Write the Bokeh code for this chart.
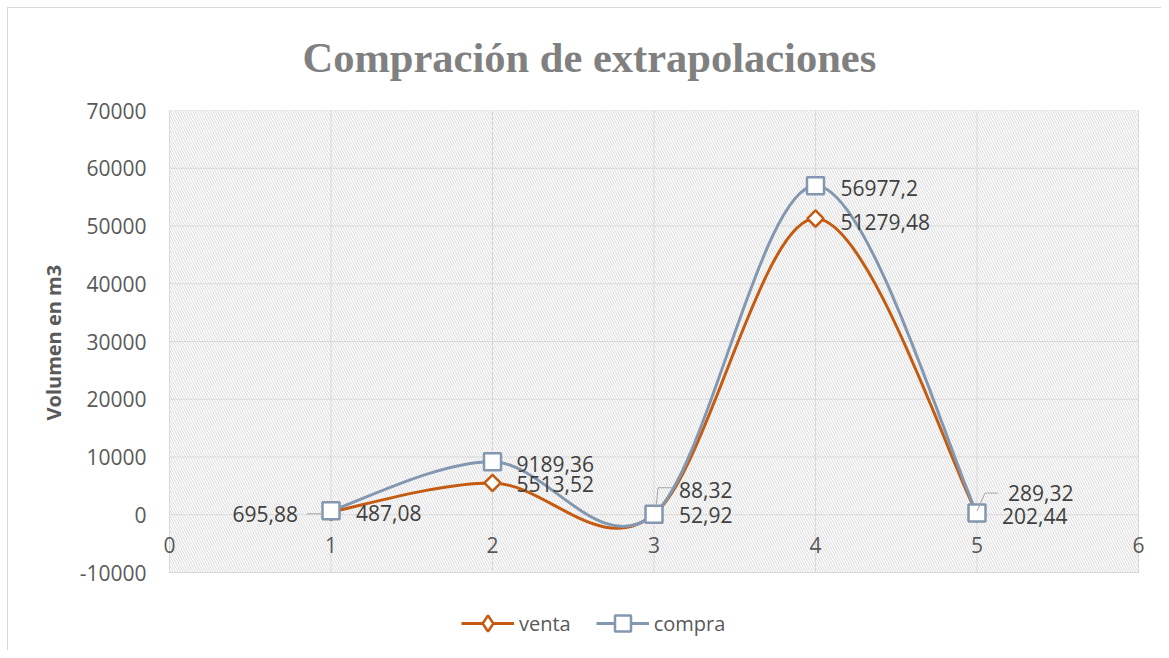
import numpy as np
from bokeh.plotting import figure
from bokeh.models import (ColumnDataSource, FixedTicker, BoxAnnotation, Title,
                          Legend, LegendItem, PrintfTickFormatter)
from bokeh.core.properties import value
from bokeh.embed import file_html
from bokeh.resources import INLINE

# ---------------- data ----------------
periods = [1, 2, 3, 4, 5]
venta = [487.08, 5513.52, 52.92, 51279.48, 202.44]
compra = [695.88, 9189.36, 88.32, 56977.2, 289.32]
series_names = ["venta", "compra"]
x_ticks = [0, 1, 2, 3, 4, 5, 6]
y_ticks = [-10000, 0, 10000, 20000, 30000, 40000, 50000, 60000, 70000]
title_text = "Compración de extrapolaciones"
y_label = "Volumen en m3"

# ---------------- styles / layout ----------------
W, H = 1161, 650
PLOT_LEFT_PX, PLOT_RIGHT_PX = 169, 1138     # visible plot-area edges
PLOT_TOP_PX, PLOT_BOTTOM_PX = 110, 572
PAD = 12                                     # extra frame room so edge labels are not clipped
MB_L = PLOT_LEFT_PX - PAD
MB_R = W - (PLOT_RIGHT_PX + PAD)
MB_T = PLOT_TOP_PX
X0, X1 = min(x_ticks), max(x_ticks)
Y0, Y1 = min(y_ticks), max(y_ticks)
PX_X = (PLOT_RIGHT_PX - PLOT_LEFT_PX) / (X1 - X0)
PX_Y = (PLOT_BOTTOM_PX - PLOT_TOP_PX) / (Y1 - Y0)
X_RANGE = (X0 - PAD / PX_X, X1 + PAD / PX_X)
Y_RANGE = (Y0 - (H - PLOT_BOTTOM_PX) / PX_Y, Y1)

C_VENTA = "#C55A11"
C_COMPRA = "#8497B0"
GRID = "#d9d9d9"
FONT = "Open Sans"


def fmt(v):
    return str(v).replace(".", ",")


def bezier_source(xs, ys):
    n = len(xs)
    d = dict(x0=[], y0=[], x1=[], y1=[], cx0=[], cy0=[], cx1=[], cy1=[])
    for i in range(n - 1):
        xm, ym = xs[max(i - 1, 0)], ys[max(i - 1, 0)]
        xp, yp = xs[min(i + 2, n - 1)], ys[min(i + 2, n - 1)]
        x0, y0, x1, y1 = xs[i], ys[i], xs[i + 1], ys[i + 1]
        d["x0"].append(x0); d["y0"].append(y0)
        d["x1"].append(x1); d["y1"].append(y1)
        d["cx0"].append(x0 + (x1 - xm) / 6); d["cy0"].append(y0 + (y1 - ym) / 6)
        d["cx1"].append(x1 - (xp - x0) / 6); d["cy1"].append(y1 - (yp - y0) / 6)
    return ColumnDataSource(d)


p = figure(width=W, height=H, x_range=X_RANGE, y_range=Y_RANGE,
           output_backend="svg", toolbar_location=None, title=None,
           min_border_left=MB_L, min_border_right=MB_R,
           min_border_top=MB_T, min_border_bottom=0,
           background_fill_color="white", border_fill_alpha=0)
# chart-area border (thin grey line, inset like the original chart box)
p.styles = {"background": "linear-gradient(#d9d9d9, #d9d9d9) 7px 7px / 1px 100% no-repeat, "
                          "linear-gradient(#d9d9d9, #d9d9d9) 7px 7px / 100% 1px no-repeat, white"}
p.outline_line_color = None
p.grid.grid_line_color = None

# hatched plot area with border
p.add_layout(BoxAnnotation(left=X0, right=X1, bottom=Y0, top=Y1,
                           fill_alpha=0, line_color=GRID, line_width=1,
                           hatch_pattern="\\", hatch_color="#d9d9d9",
                           hatch_scale=5, hatch_weight=1, level="image"))

# gridlines from the tick lists
p.segment(x0=x_ticks, y0=[Y0] * len(x_ticks), x1=x_ticks, y1=[Y1] * len(x_ticks),
          line_color=GRID, line_width=1)
p.segment(x0=[X0] * len(y_ticks), y0=y_ticks, x1=[X1] * len(y_ticks), y1=y_ticks,
          line_color=GRID, line_width=1)

# axes
xa = p.xaxis[0]
xa.ticker = FixedTicker(ticks=x_ticks)
xa.fixed_location = 0
xa.axis_line_color = None
xa.major_tick_out = 0
xa.major_tick_in = 0
xa.minor_tick_out = 0
xa.minor_tick_in = 0
xa.major_label_standoff = 22
xa.major_label_text_font = FONT
xa.major_label_text_font_size = "21px"
xa.major_label_text_color = "#595959"

ya = p.yaxis[0]
ya.ticker = FixedTicker(ticks=y_ticks)
ya.formatter = PrintfTickFormatter(format="%d")
ya.axis_line_color = None
ya.major_tick_out = 0
ya.major_tick_in = 0
ya.minor_tick_out = 0
ya.minor_tick_in = 0
ya.major_label_standoff = PAD - 1
ya.major_label_text_font = FONT
ya.major_label_text_font_size = "21px"
ya.major_label_text_color = "#595959"

# y axis title (left panel, placed along the visible plot area)
p.add_layout(Title(text=y_label, align="left", offset=H - 420, standoff=19,
                   text_font=FONT, text_font_style="bold",
                   text_font_size="20px", text_color="#595959"), "left")

# smooth lines
rv_line = p.bezier(x0="x0", y0="y0", x1="x1", y1="y1", cx0="cx0", cy0="cy0",
                   cx1="cx1", cy1="cy1", source=bezier_source(periods, venta),
                   line_color=C_VENTA, line_width=3)
rc_line = p.bezier(x0="x0", y0="y0", x1="x1", y1="y1", cx0="cx0", cy0="cy0",
                   cx1="cx1", cy1="cy1", source=bezier_source(periods, compra),
                   line_color=C_COMPRA, line_width=3)

# markers: a diamond (used for the legend key) sits under the square-diamond marker
rv_key = p.scatter(periods, venta, marker="diamond", size=12,
                   fill_color="white", line_color=C_VENTA, line_width=2.5)
rv_mark = p.scatter(periods, venta, marker="square", angle=np.pi / 4, size=11.5,
                    fill_color="white", line_color=C_VENTA, line_width=2.5)
rc_mark = p.scatter(periods, compra, marker="square", size=17,
                    fill_color="white", line_color=C_COMPRA, line_width=2.5)

# leader lines for some compra labels (pixel offsets from the point)
leader_px = {0: [(-24, 3), (-8, 3)],
             2: [(2, -6.5), (4, -26.5), (19, -26.5)],
             4: [(0, -2), (8, -20), (21, -20)]}
lxs, lys = [], []
for i, pts in leader_px.items():
    lxs.append([periods[i] + dx / PX_X for dx, dy in pts])
    lys.append([compra[i] - dy / PX_Y for dx, dy in pts])
p.multi_line(lxs, lys, line_color="#a6a6a6", line_width=1)

# data labels
comp_off = [(-33, 3, "right"), (24, 2, "left"), (25, -24.5, "left"), (25, 2, "left"), (31, -20, "left")]
vent_off = [(25, 1, "left"), (24, 1, "left"), (25, 1, "left"), (25, 3, "left"), (25, 2, "left")]
lab = dict(x=[], y=[], text=[], dx=[], dy=[], align=[])
for vals, offs in ((compra, comp_off), (venta, vent_off)):
    for xv, yv, (dx, dy, al) in zip(periods, vals, offs):
        lab["x"].append(xv); lab["y"].append(yv); lab["text"].append(fmt(yv))
        lab["dx"].append(dx); lab["dy"].append(dy); lab["align"].append(al)
p.text(x="x", y="y", text="text", x_offset="dx", y_offset="dy",
       text_align="align", text_baseline="middle", source=ColumnDataSource(lab),
       text_font=value(FONT), text_font_size="21px", text_color="#404040")

# title
p.add_layout(Title(text=title_text, align="left", offset=145, standoff=59,
                   text_font="Liberation Serif", text_font_style="bold",
                   text_font_size="42.5px", text_color="#808080"), "above")

# legend inside the (extended) frame, below the plot area
legend = Legend(items=[LegendItem(label=series_names[0], renderers=[rv_line, rv_key]),
                       LegendItem(label=series_names[1], renderers=[rc_line, rc_mark])],
                orientation="horizontal", location=(461 - MB_L, 7),
                glyph_width=53, glyph_height=40, label_standoff=5, spacing=25,
                padding=0, margin=0, border_line_color=None,
                background_fill_alpha=0, label_text_font=FONT,
                label_text_font_size="20px", label_text_color="#595959")
p.add_layout(legend)

open("out.html", "w").write(file_html(p, INLINE))
